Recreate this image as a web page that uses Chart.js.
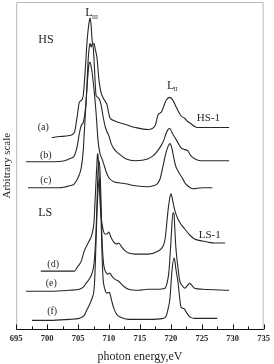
<!DOCTYPE html>
<html><head><meta charset="utf-8">
<script src="https://cdn.jsdelivr.net/npm/chart.js@4"></script>
<style>html,body{margin:0;padding:0;background:#fff}#wrap{width:274px;height:364px}</style>
</head><body><div id="wrap"><canvas id="c" width="274" height="364"></canvas></div>
<script>
const xTickLabels = [695,700,705,710,715,720,725,730,735];
const minorTicks = [697.5,702.5,707.5,712.5,717.5,722.5,727.5,732.5];

const aE = [700.74,702.01,703.61,704.40,704.88,705.20,705.52,705.84,706.16,706.47,706.79,706.95,707.11,707.27,707.43,707.59,707.75,708.07,708.39,708.71,709.02,709.50,709.66,710.14,710.78,711.57,712.69,714.28,716.35,717.47,717.95,718.43,718.90,719.22,719.86,720.34,720.82,721.14,721.61,722.25,722.73,723.21,723.84,724.32,725.92,729.42];
const aI = [191,192,193,196,213,226,228,233,258,288,306,310,303,288,284,285,280,270,248,236,231,226,224,211,208,206,204,201,199,203,214,216,223,228,231,228,222,218,213,210,207,205,202,201,201,201];

const bE = [696.59,700.42,702.81,703.61,704.40,704.88,705.20,705.52,705.84,706.16,706.31,706.47,706.63,706.79,706.95,707.11,707.27,707.43,707.59,707.75,707.91,708.23,708.39,708.71,709.02,709.34,709.66,709.98,710.30,710.78,711.57,712.69,714.28,716.35,717.15,717.63,718.43,718.90,719.22,719.54,719.86,720.18,720.66,721.14,721.61,722.25,722.73,723.21,723.84,724.80,729.42];
const bI = [167,167,168,170,173,183,195,203,206,218,228,248,268,280,285,281,284,282,268,248,233,231,230,224,213,203,197,193,186,180,175,170,168,170,173,176,183,189,195,199,200,196,191,186,181,179,178,173,170,168,168];

const cE = [696.91,700.42,702.01,703.61,704.40,705.20,705.52,705.84,706.00,706.31,706.47,706.63,706.79,706.95,707.11,707.27,707.59,707.91,708.23,708.55,708.86,709.34,709.66,709.98,710.78,711.57,712.69,714.28,716.35,717.15,717.79,718.27,718.75,719.22,719.54,719.86,720.18,720.50,720.82,721.14,721.61,721.93,722.25,722.73,723.53,725.12,726.71];
const cI = [141,141,141,143,145,154,161,178,195,228,243,256,265,266,262,256,238,216,188,175,170,161,155,151,147,146,145,143,142,143,145,150,163,176,182,185,180,170,162,158,153,150,146,143,140,141,141];

const dE = [698.98,702.01,704.40,704.88,705.52,706.00,706.47,706.79,707.27,707.59,707.75,707.91,708.07,708.15,708.23,708.39,708.55,708.71,709.02,709.34,709.66,709.98,710.30,710.78,711.25,711.57,712.06,712.69,713.17,714.28,716.35,717.95,718.75,719.07,719.22,719.54,719.86,720.02,720.18,720.50,720.82,721.14,721.61,722.25,723.05,723.84,725.12,725.92,727.03,728.78];
const dI = [58,58,58,62,68,78,84,88,95,108,128,148,168,175,173,153,128,113,100,95,95,97,92,87,85,86,82,78,76,75,75,78,83,90,98,118,132,135,132,122,115,110,105,100,94,90,88,87,86,86];

const eE = [696.59,700.42,703.61,705.20,705.84,706.31,706.79,707.27,707.59,707.91,708.07,708.23,708.39,708.55,708.71,708.86,709.02,709.18,709.50,709.82,710.14,710.46,710.94,711.57,712.37,713.17,714.76,716.35,717.95,719.07,719.38,719.70,720.02,720.34,720.50,720.66,720.82,721.14,721.45,721.93,722.25,722.73,723.05,723.37,723.84,725.12,729.42];
const eI = [38,38,39,40,42,46,50,56,66,98,128,158,168,158,128,93,73,63,57,55,56,53,50,48,43,40,39,40,40,41,46,58,88,116,115,98,81,62,48,43,41,44,46,44,41,40,39];

const fE = [697.55,700.42,703.61,705.20,706.00,706.47,706.95,707.27,707.59,707.75,707.91,708.07,708.23,708.39,708.47,708.55,708.71,708.86,709.02,709.34,709.66,709.98,710.14,710.46,710.78,711.25,711.89,713.17,716.35,718.75,719.22,719.54,719.86,720.18,720.50,720.66,720.82,721.14,721.45,721.61,721.93,722.25,722.41,722.73,723.21,723.84,727.51];
const fI = [9,9,10,11,14,20,26,31,40,58,88,118,138,148,150,143,113,78,53,40,36,37,36,28,21,15,12,10,10,11,13,20,31,58,71,68,60,48,30,23,21,20,18,15,12,11,11];

const curveNames = ['(a)','(b)','(c)','(d)','(e)','(f)'];
const curveLabelE = [699.38,699.78,699.78,700.98,700.66,700.82];
const curveLabelI = [201,173,148,65,46,18];

const series = [[aE,aI],[bE,bI],[cE,cI],[dE,dI],[eE,eI],[fE,fI]];

const SERIF = '"Liberation Serif", "DejaVu Serif", serif';
const INK = '#262626';

const decor = {
  id: 'decor',
  afterDraw(chart) {
    const {ctx, chartArea: ca, scales: {x, y}} = chart;
    ctx.save();
    ctx.strokeStyle = '#b8b8b8';
    ctx.lineWidth = 1;
    ctx.beginPath();
    ctx.moveTo(ca.left + 0.5, ca.bottom);
    ctx.lineTo(ca.left + 0.5, ca.top + 0.5);
    ctx.lineTo(ca.right - 0.5, ca.top + 0.5);
    ctx.lineTo(ca.right - 0.5, ca.bottom);
    ctx.stroke();
    ctx.strokeStyle = '#111';
    ctx.beginPath();
    xTickLabels.forEach(v => {
      const px = Math.round(x.getPixelForValue(v)) + 0.5;
      ctx.moveTo(px, ca.bottom); ctx.lineTo(px, ca.bottom - 5);
    });
    minorTicks.forEach(v => {
      const px = Math.round(x.getPixelForValue(v)) + 0.5;
      ctx.moveTo(px, ca.bottom); ctx.lineTo(px, ca.bottom - 3);
    });
    ctx.stroke();
    ctx.fillStyle = INK;
    ctx.textBaseline = 'middle';
    ctx.textAlign = 'center';
    ctx.font = '10px ' + SERIF;
    curveNames.forEach((t, i) => {
      ctx.fillText(t, x.getPixelForValue(curveLabelE[i]), y.getPixelForValue(curveLabelI[i]));
    });
    ctx.font = '12px ' + SERIF;
    ctx.fillText('HS', x.getPixelForValue(699.8), y.getPixelForValue(288));
    ctx.fillText('LS', x.getPixelForValue(699.7), y.getPixelForValue(116));
    ctx.textAlign = 'left';
    ctx.font = '11px ' + SERIF;
    ctx.fillText('HS-1', x.getPixelForValue(724.2), y.getPixelForValue(210));
    ctx.fillText('LS-1', x.getPixelForValue(724.5), y.getPixelForValue(94));
    const drawL = (e, i, sub) => {
      const px = x.getPixelForValue(e), py = y.getPixelForValue(i);
      ctx.font = '12px ' + SERIF;
      ctx.fillText('L', px, py);
      const w = ctx.measureText('L').width;
      ctx.font = '6px ' + SERIF;
      ctx.fillText(sub, px + w - 0.5, py + 4);
    };
    drawL(706.16, 315, 'III');
    drawL(719.38, 243, 'II');
    ctx.restore();
  }
};

const datasets = series.map(([E, I]) => ({
  data: E.map((e, k) => ({x: e, y: I[k]})),
  borderColor: INK,
  borderWidth: 1.1,
  pointRadius: 0,
  fill: false,
  cubicInterpolationMode: 'monotone'
}));

new Chart(document.getElementById('c'), {
  type: 'line',
  data: {datasets},
  options: {
    responsive: false,
    animation: false,
    layout: {padding: {top: 2, left: 1, right: 0, bottom: 0}},
    plugins: {legend: {display: false}, tooltip: {enabled: false}},
    scales: {
      x: {
        type: 'linear', min: 695, max: 735,
        afterBuildTicks: s => { s.ticks = xTickLabels.map(v => ({value: v})); },
        ticks: {font: {family: SERIF, size: 8.5, weight: 'bold'}, color: INK, padding: 4, maxRotation: 0, autoSkip: false},
        grid: {display: false, drawTicks: false},
        border: {display: true, color: '#111', width: 1},
        title: {display: true, text: 'photon energy,eV', font: {family: SERIF, size: 12}, color: INK, padding: {top: 2, bottom: 0}}
      },
      y: {
        min: 0, max: 326,
        ticks: {display: false},
        grid: {display: false, drawTicks: false},
        border: {display: false},
        title: {display: true, text: 'Arbitrary scale', font: {family: SERIF, size: 11}, color: INK, padding: {top: 0, bottom: 2}}
      }
    }
  },
  plugins: [decor]
});
</script>
</body></html>
